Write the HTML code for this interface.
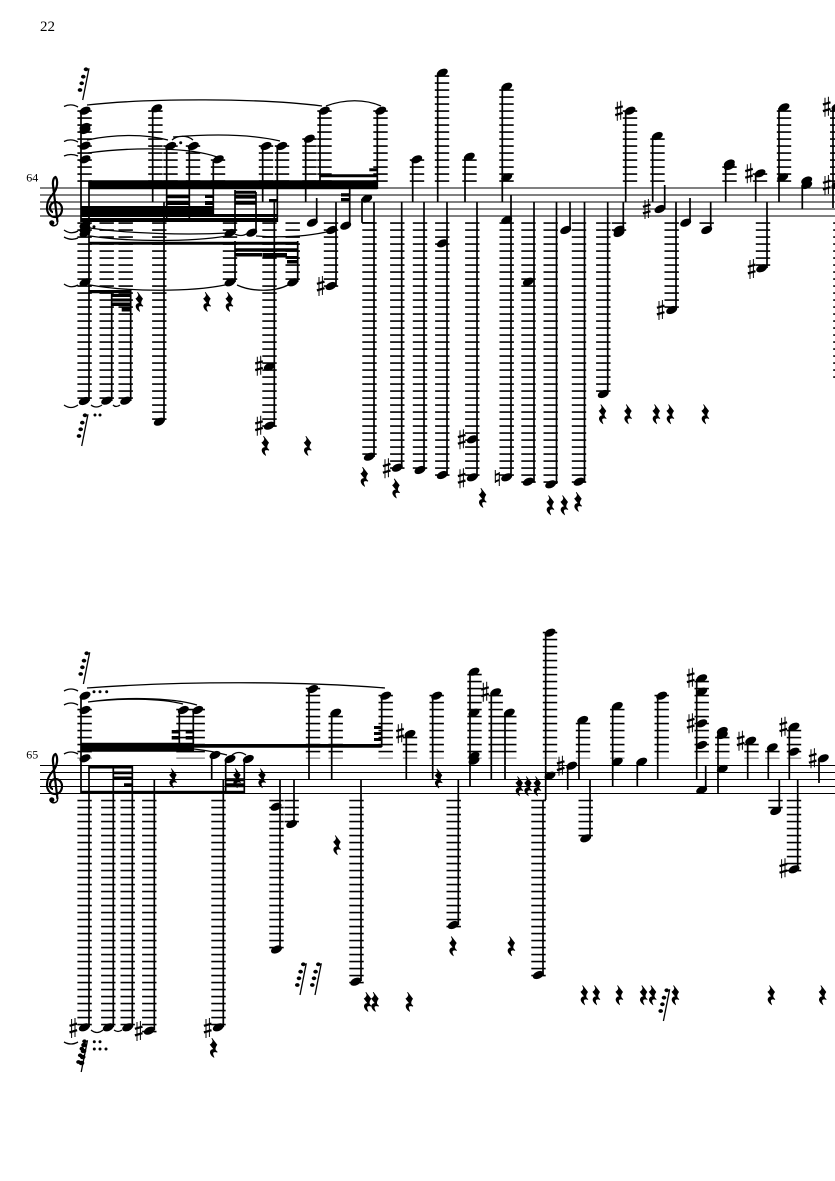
<!DOCTYPE html>
<html><head><meta charset="utf-8"><title>Score page 22</title>
<style>
html,body{margin:0;padding:0;background:#fff}
svg{display:block;position:absolute;left:0;top:0}
text{font-family:"Liberation Serif",serif;fill:#000}
.st{stroke:#000;stroke-width:.95;fill:none}
.s{stroke:#000;stroke-width:1.7;fill:none}
.l{stroke:#000;stroke-width:14.4;stroke-dasharray:1.7 5.3;fill:none}
.t{stroke:#000;stroke-width:1.3;fill:none}
</style></head>
<body>
<svg width="835" height="1181" viewBox="0 0 835 1181" xmlns="http://www.w3.org/2000/svg">
<defs>
<ellipse id="n" rx="5.8" ry="3.6" transform="rotate(-25)"/>
<path id="r" stroke="#000" stroke-width=".8" d="M-1.5-9.5L3.5-3C2-1 1 1 2.5 3L4 4.5C1.5 3.5-1 4-.5 6.5-.3 8 .5 9 .5 9.5-2.5 7.5-4 4.5-2 2.5-1 1.700.5 1.5 1 2L-3-3C-1-4.5 0-6-.5-7.5Z"/>
<g id="h"><path d="M-1.7-9V10M1.7-10V9" stroke="#000" stroke-width="1" fill="none"/><path d="M-3.8-2.2L3.8-4.4M-3.8 4.4L3.8 2.2" stroke="#000" stroke-width="2.3" fill="none"/></g>
<g id="g"><path d="M82.7 100L89 68.3" stroke="#000" stroke-width="1.3"/><ellipse cx="86" cy="69.3" rx="2.3" ry="1.9"/><ellipse cx="83.3" cy="76.7" rx="2.3" ry="1.9"/><ellipse cx="81.7" cy="83.3" rx="2.3" ry="1.9"/><ellipse cx="80" cy="90" rx="2.3" ry="1.9"/></g>
<g id="c"><path d="M57.5 222L53 185C52.5 180 54 177.5 55.5 177C58 180 58 188 53 194C48 199 47 204 47 208C47 214 51 217 55 217C60 217 62 213 62 209C62 205 59 202 55.5 202C52 202 50 205 50 208C50 210 51.5 212 53 212" fill="none" stroke="#000" stroke-width="2.2"/><path d="M57.5 222C58 226 52 227 50.5 224" fill="none" stroke="#000" stroke-width="1.5"/><circle cx="51.8" cy="222.8" r="2.6"/></g>
</defs>

<text x="40" y="31" font-size="15">22</text>
<text x="26.3" y="181.7" font-size="12">64</text>
<text x="26.3" y="758.7" font-size="12">65</text>

<path class="st" d="M40 188H835M40 195H835M40 202H835M40 209H835M40 216H835"/>
<path class="st" d="M40 765.5H835M40 772.5H835M40 779.5H835M40 786.5H835M40 793.5H835"/>
<use href="#c"/><use href="#c" y="577"/>

<path class="l" d="M84.6 110.2V181.9M155.4 110.2V181.9M170.5 145.2V181.9M193 145.2V181.9M218 159.2V181.9M266 145.2V181.9M282 145.2V181.9M309.5 138.2V181.9M324.5 110.2V181.9M380.5 110.2V181.9M417 159.2V181.9M442 75.2V181.9M469.5 159.2V181.9M506.5 89.2V181.9M630 110.2V181.9M657.5 138.2V181.9M729.5 166.2V181.9M760 173.2V181.9M784 110.2V181.9"/>
<path class="l" d="M84.6 222.2V398.9M106.7 222.2V398.9M125.7 222.2V398.9M159.3 222.2V419.9M230 222.2V279.9M292.7 222.2V279.9M269.5 222.2V426.9M331 222.2V286.9M369.5 222.2V454.9M397.3 222.2V468.9M420 222.2V468.9M442.3 222.2V475.9M472.3 222.2V475.9M506.7 222.2V475.9M528.5 222.2V482.9M550.7 222.2V482.9M579 222.2V482.9M603.3 222.2V391.9M619 222.2V230.9M671.7 222.2V307.9M706.7 222.2V223.9M763 222.2V265.9"/>
<path class="l" style="stroke-width:5" d="M832.5 110.2V181.9"/>
<path class="l" style="stroke-width:2" d="M834.2 222.2V377.9"/>
<path class="l" d="M84.6 708.7V758.4M183.5 708.7V758.4M197.7 708.7V758.4M313 687.7V758.4M335.7 715.7V758.4M385.7 694.7V758.4M410 736.7V758.4M436.7 694.7V758.4M474.5 673.7V758.4M495.7 694.7V758.4M509.3 715.7V758.4M550 631.7V758.4M583 722.7V758.4M617.3 708.7V758.4M661.7 694.7V758.4M701.7 680.7V758.4M722.3 736.7V758.4M751.5 743.7V758.4M772.3 750.7V758.4M794 729.7V758.4"/>
<path class="l" d="M84.6 799.7V1025.4M108.3 799.7V1025.4M127.7 799.7V1025.4M149.3 799.7V1032.4M218.5 799.7V1025.4M276.5 799.7V948.4M291.7 799.7V822.4M356.5 799.7V983.4M453.7 799.7V927.4M538.5 799.7V976.4M585.7 799.7V836.4M775.5 799.7V808.4M794 799.7V871.4"/>

<path class="s" d="M81 110V222M89 181V401M111.7 290V401M130.7 290V401M152.7 110V202M164 202V421M166.7 147V222M189.3 147V222M213.3 160V216M235 190V233M235 241V282M256 192V233M262.7 147V202M277.3 147V222M274.3 200V426M297.7 241V282M305.7 140V202M316.7 198V223M320 112V187M336 202V286M349.7 183V226M362 199V222.7M374 202V457M377.3 112V189M401.7 202V468M412.7 160V202M424 202V470M437.7 74V202M447 202V475M465 158V202M477 202V477M502.3 88V202M511 195V477M534 202V482M556.5 202V484M570 202V230M584.5 202V482M607.7 202V393M623.3 202V232M625.7 112V202M652.7 138V202M664.7 185V209M676 202V309M690 198V223M710.7 202V230M725.7 165V202M755.7 174V202M767 202V268M779 108V202M802.3 185V209M833 110V208"/>
<path class="s" d="M81 696V793M89 766V1027M113.3 766V1027M132.3 766V1027M154.3 779V1030M179.3 711V747M193.3 711V750M211.7 756V780M225.7 760V793M244.3 760V793M223.3 779V1027M280 779V949M294 779V824M309 690V779M331.7 714V779M361 779V981M381.7 697V747M406.3 735V779M432.7 697V779M458.3 779V925M470 672V786M491.3 693V779M505 714V779M545.7 634V800M543 800V975M567.7 767V790M579 721V779M590 779V838M612.7 707V786M637.3 762V786M657.7 696V779M696.7 679V779M705.7 766V790M718 733V793M747.7 741V779M768.3 748V779M779.3 779V811M789.3 727V779M797.7 779V869M819 759V783"/>

<path fill="#000" d="M89 180.3h288.3v9H89zM320 174.3h57.3v3H320zM369.3 168.3h8v3h-8zM81 206h132.3v11H81zM213 214h65v3h-65zM81 218h197v4H81zM166.7 195h22.6v3.3h-22.6zM166.7 200.7h22.6v4.3h-22.6zM205 195h8.3v3H205zM205 201h8.3v4H205zM235 190.7h21v3h-21zM235 195.3h21v3.3h-21zM235 200.7h21v4h-21zM269 199h8.3v3.5H269zM89 241.7h208.7v3H89zM235 248.3h62.7v3.5H235zM235 253h27v3.5h-27zM262.5 253H287v4.5h-24.5zM287 256h10.7v3H287zM287 260h10.7v3.5H287zM89 290h41.7v3.3H89zM111.7 294h19v3h-19zM111.7 298.5h19v3h-19zM111.7 302.5h19v3.5h-19zM121.7 307.5h9v4h-9zM341 193.3h8.7v3.2H341zM341 198h8.7v3.2H341zM362 222h12v1.5h-12z"/>
<path fill="#000" d="M81 742.7h113v9H81zM194 744h187.7v3.7H194zM81 790.7h163.3v3H81zM89 766h43.3v2.5H89zM113.3 771.5h19v2.8h-19zM113.3 776.5h19v3.5h-19zM124 783.3h8.3v3H124zM171.7 730h7.6v3.5h-7.6zM171.7 736h7.6v3.5h-7.6zM185.7 730h7.6v3.5h-7.6zM185.7 736h7.6v3.5h-7.6zM225.7 778.3h18.6v3h-18.6zM225.7 783.3h18.6v4h-18.6zM374 726h7.7v3H374zM374 732h7.7v3H374zM374 738h7.7v3H374zM543 799.5h3v1.5h-3z"/>

<g fill="#000">
<circle cx="180.7" cy="142.7" r="1.5"/><circle cx="94" cy="226.7" r="1.5"/><circle cx="95" cy="415" r="1.5"/><circle cx="100" cy="415" r="1.5"/><circle cx="94" cy="691.7" r="1.5"/><circle cx="100" cy="691.7" r="1.5"/><circle cx="106.7" cy="691.7" r="1.5"/><circle cx="94.3" cy="1041.7" r="1.5"/><circle cx="100" cy="1041.7" r="1.5"/><circle cx="94.3" cy="1049" r="1.5"/><circle cx="100" cy="1049" r="1.5"/><circle cx="106" cy="1049" r="1.5"/>
</g>

<path class="t" d="M87 105C150 98 260 98 322 106M326 106C345 99 365 99 381 106M87 140C115 134 145 134 168 140M172 140C178 135 187 135 193 140M173 137C210 134 250 134 280 141M88 153C130 147 190 147 217 157M64 106.5Q71 103 78 107M64 141.5Q71 138 78 142M64 156Q71 153 78 156"/>
<path class="t" d="M90 228C130 234 190 235 228 233M90 236C130 242 190 242 227 236M233 233Q241 238 248 233M256 236C285 238 310 236 331 231M90 285C130 292 190 292 225 285M237 285C252 292 275 292 288 285M64 284Q71 289 78 285M64 230Q71 235 78 231M64 237Q71 241 78 238M64 405Q71 410 78 405M91 405Q96 409 102 405M113 405Q116 408 120 405"/>
<path class="t" d="M87 688C180 681 300 681 385 688M88 702C120 697 170 697 197 705M88 702C120 698 160 698 183 704M64 691Q71 687 78 691M64 705Q71 701 78 705M64 754Q71 750 78 754M194 749Q212 751 227 755M232 755Q239 750 246 755M91 1030Q97 1035 103 1030M114 1030Q118 1033 122 1030M64 1042Q71 1046 78 1042"/>

<g fill="#000">
<use href="#n" x="85" y="110.7"/><use href="#n" x="85" y="127"/><use href="#n" x="85" y="130"/><use href="#n" x="85" y="145.7"/><use href="#n" x="85" y="159.3"/><use href="#n" x="85" y="225"/><use href="#n" x="85" y="229"/><use href="#n" x="85" y="233"/><use href="#n" x="85" y="282.3"/><use href="#n" x="84.3" y="401"/><use href="#n" x="106.7" y="400.7"/><use href="#n" x="125.7" y="400.7"/>
<use href="#n" x="156.7" y="108.3"/><use href="#n" x="159.3" y="421.7"/><use href="#n" x="170.7" y="146"/><use href="#n" x="193.3" y="146"/><use href="#n" x="218.3" y="159.3"/><use href="#n" x="230" y="233"/><use href="#n" x="251.7" y="232.7"/><use href="#n" x="230" y="282.3"/><use href="#n" x="292.7" y="282.3"/><use href="#n" x="266" y="146"/><use href="#n" x="281.7" y="146"/><use href="#n" x="269.3" y="366.7"/><use href="#n" x="269.3" y="425.7"/>
<use href="#n" x="309.3" y="138.7"/><use href="#n" x="324.3" y="110.7"/><use href="#n" x="380.7" y="110.7"/><use href="#n" x="312.3" y="222.7"/><use href="#n" x="331.7" y="230"/><use href="#n" x="331" y="286"/><use href="#n" x="345.7" y="225.7"/><use href="#n" x="366.7" y="198.7"/><use href="#n" x="369.3" y="456.7"/><use href="#n" x="397.3" y="467.7"/><use href="#n" x="416.7" y="159.3"/><use href="#n" x="420" y="470"/><use href="#n" x="442.3" y="72.7"/><use href="#n" x="442.3" y="243.3"/><use href="#n" x="442.3" y="475"/><use href="#n" x="469.3" y="156.7"/><use href="#n" x="472.3" y="439.3"/><use href="#n" x="472.3" y="477.3"/>
<use href="#n" x="506.7" y="86.7"/><use href="#n" x="506.7" y="177.3"/><use href="#n" x="506.7" y="220"/><use href="#n" x="506.7" y="477.3"/><use href="#n" x="528.3" y="281.7"/><use href="#n" x="528.3" y="481.7"/><use href="#n" x="550.7" y="484.3"/><use href="#n" x="565.7" y="230"/><use href="#n" x="579" y="481.7"/><use href="#n" x="603.3" y="394"/><use href="#n" x="619" y="229.7"/><use href="#n" x="619" y="233"/><use href="#n" x="630" y="110.7"/><use href="#n" x="657.3" y="136"/><use href="#n" x="660" y="209"/><use href="#n" x="671.7" y="310"/><use href="#n" x="685.7" y="222.7"/><use href="#n" x="706.7" y="230"/><use href="#n" x="729.3" y="163.5"/><use href="#n" x="729.3" y="166"/><use href="#n" x="760" y="173.3"/><use href="#n" x="761.7" y="268.3"/><use href="#n" x="784" y="107.3"/><use href="#n" x="782.7" y="177.3"/><use href="#n" x="806.7" y="180.5"/><use href="#n" x="806.7" y="185"/><use href="#n" x="837" y="107"/><use href="#n" x="837" y="185"/>

<use href="#n" x="85" y="695.7"/><use href="#n" x="85" y="710"/><use href="#n" x="85" y="758.3"/><use href="#n" x="84.3" y="1027.3"/><use href="#n" x="108.3" y="1027.3"/><use href="#n" x="127.7" y="1027.3"/><use href="#n" x="149.3" y="1030.7"/><use href="#n" x="218.3" y="1027.3"/><use href="#n" x="183.3" y="710"/><use href="#n" x="197.7" y="710"/><use href="#n" x="215" y="755"/><use href="#n" x="230" y="759"/><use href="#n" x="248.3" y="759"/><use href="#n" x="276" y="806.7"/><use href="#n" x="276.5" y="949.5"/><use href="#n" x="291.7" y="824"/>
<use href="#n" x="312.7" y="689"/><use href="#n" x="335.7" y="712.7"/><use href="#n" x="355.7" y="981.7"/><use href="#n" x="385.7" y="695.7"/><use href="#n" x="410" y="734"/><use href="#n" x="436.7" y="695.7"/><use href="#n" x="453.3" y="925"/><use href="#n" x="474" y="671.7"/><use href="#n" x="474" y="712.7"/><use href="#n" x="474" y="756"/><use href="#n" x="474" y="760.7"/><use href="#n" x="495.7" y="692.3"/><use href="#n" x="509.3" y="712.7"/><use href="#n" x="538.3" y="975"/>
<use href="#n" x="550" y="632.7"/><use href="#n" x="550" y="775.7"/><use href="#n" x="571.7" y="765.7"/><use href="#n" x="582.7" y="720"/><use href="#n" x="585.7" y="838.3"/><use href="#n" x="617.3" y="706"/><use href="#n" x="617.3" y="761.7"/><use href="#n" x="641.7" y="761.7"/><use href="#n" x="661.7" y="695.7"/><use href="#n" x="701.7" y="678.3"/><use href="#n" x="701.7" y="691.7"/><use href="#n" x="701.7" y="723.3"/><use href="#n" x="701.7" y="745"/><use href="#n" x="701.7" y="790"/><use href="#n" x="722.3" y="731"/><use href="#n" x="722.3" y="735"/><use href="#n" x="722.3" y="769"/><use href="#n" x="750.7" y="740.7"/><use href="#n" x="772.3" y="747.3"/><use href="#n" x="775.7" y="811"/><use href="#n" x="794" y="726.7"/><use href="#n" x="794" y="751.7"/><use href="#n" x="794" y="869.3"/><use href="#n" x="823.3" y="758.3"/>

<use href="#h" x="259" y="365.7"/><use href="#h" x="259" y="425.7"/><use href="#h" x="320.7" y="286"/><use href="#h" x="386.7" y="468.3"/><use href="#h" x="461.7" y="439.3"/><use href="#h" x="461.7" y="478.3"/><use href="#h" x="619" y="110.7"/><use href="#h" x="646.7" y="209"/><use href="#h" x="660.7" y="310"/><use href="#h" x="749" y="173.3"/><use href="#h" x="751.7" y="269"/><use href="#h" x="826.7" y="106.7"/><use href="#h" x="826.7" y="185"/>
<use href="#h" x="73.3" y="1028"/><use href="#h" x="138.7" y="1031"/><use href="#h" x="207.7" y="1028"/><use href="#h" x="400" y="733.3"/><use href="#h" x="485" y="691.7"/><use href="#h" x="560.7" y="765.7"/><use href="#h" x="690.7" y="677.7"/><use href="#h" x="690.7" y="723.3"/><use href="#h" x="740.7" y="740.7"/><use href="#h" x="783.3" y="726.7"/><use href="#h" x="783.3" y="868.3"/><use href="#h" x="812.7" y="758.3"/>
<path d="M495.3 470V483M499.3 472V486" stroke="#000" stroke-width="1" fill="none"/><path d="M495.3 475L499.3 473.5M495.3 481.5L499.3 480" stroke="#000" stroke-width="2" fill="none"/>

<use href="#r" x="139" y="301.7"/><use href="#r" x="206.7" y="301.7"/><use href="#r" x="229" y="301.7"/><use href="#r" x="265" y="445.7"/><use href="#r" x="307.3" y="445.7"/><use href="#r" x="364" y="476.7"/><use href="#r" x="395.7" y="488.3"/><use href="#r" x="482.3" y="497.7"/><use href="#r" x="550" y="505"/><use href="#r" x="564" y="505"/><use href="#r" x="577.7" y="501.7"/><use href="#r" x="602.3" y="414"/><use href="#r" x="627.7" y="414"/><use href="#r" x="656" y="414"/><use href="#r" x="670" y="414"/><use href="#r" x="705" y="414"/>
<use href="#r" x="172.7" y="778"/><use href="#r" x="236.7" y="778"/><use href="#r" x="261.7" y="778"/><use href="#r" x="213.3" y="1047.7"/><use href="#r" x="336.7" y="845"/><use href="#r" x="438.3" y="778.3"/><use href="#r" x="519" y="786"/><use href="#r" x="527.7" y="786"/><use href="#r" x="537" y="786"/><use href="#r" x="452.7" y="946"/><use href="#r" x="511" y="946"/><use href="#r" x="367.3" y="1001.7"/><use href="#r" x="374.7" y="1001.7"/><use href="#r" x="409" y="1001.7"/><use href="#r" x="584" y="995"/><use href="#r" x="596" y="995"/><use href="#r" x="619" y="995"/><use href="#r" x="643.3" y="995"/><use href="#r" x="652.3" y="995"/><use href="#r" x="675" y="995"/><use href="#r" x="771" y="995"/><use href="#r" x="822.3" y="995"/>

<use href="#g"/><use href="#g" x=".7" y="584"/><use href="#g" x="-1" y="346"/><use href="#g" x="-1.5" y="972"/><use href="#g" x="217.3" y="895"/><use href="#g" x="232.3" y="895"/><use href="#g" x="580.7" y="921"/>
<ellipse cx="84" cy="1045" rx="2.8" ry="2.3"/><ellipse cx="83.5" cy="1051" rx="2.8" ry="2.3"/><ellipse cx="82.7" cy="1057" rx="2.8" ry="2.3"/><ellipse cx="81.5" cy="1063" rx="2.8" ry="2.3"/>
</g>
</svg>
</body></html>
